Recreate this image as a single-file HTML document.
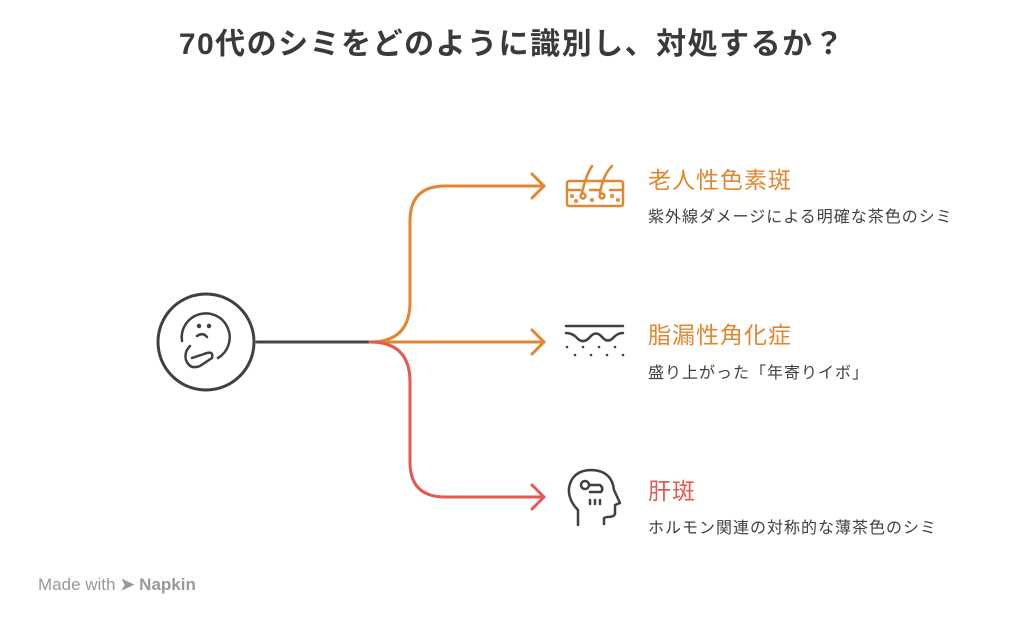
<!DOCTYPE html>
<html><head><meta charset="utf-8"><style>
body{margin:0;width:1024px;height:631px;background:#fff;position:relative;font-family:"Liberation Sans","Noto Sans CJK JP",sans-serif;overflow:hidden}
.t{position:absolute;white-space:nowrap}
.h{font-size:23px;letter-spacing:1px}
.d{font-size:16px;letter-spacing:1px;color:#404040}
</style></head><body>
<div class="t" style="left:0;width:1024px;top:19px;text-align:center;font-size:30px;letter-spacing:1.5px;font-weight:bold;color:#3a3a3a">70代のシミをどのように識別し、対処するか？</div>
<svg width="1024" height="631" style="position:absolute;left:0;top:0" fill="none" stroke-linecap="round" stroke-linejoin="round">
<circle cx="206" cy="342" r="48" stroke="#404040" stroke-width="3"/>
<g stroke="#404040" stroke-width="2.5">
<path d="M182 341 A24 24 0 1 1 218 358"/>
<path d="M190 346 Q184 352 186 360 Q190 370 200 366 L212 358 Q214 350 204 354 L192 358"/>
<circle cx="199" cy="326" r="1" fill="#404040"/><circle cx="209" cy="326" r="1" fill="#404040"/>
<path d="M197 336 Q203 332 207 337"/>
</g>
<path d="M257 342 H370" stroke="#454545" stroke-width="3"/>
<path d="M370 342 Q410 342 410 302 V221 Q410 186 445 186 H544" stroke="#E0872F" stroke-width="3"/>
<path d="M370 342 H544" stroke="#E0872F" stroke-width="3"/>
<path d="M370 342 Q410 342 410 382 V462 Q410 497 445 497 H544" stroke="#E45A52" stroke-width="3"/>
<path d="M532 174 L544 186 L532 198 M532 330 L544 342 L532 354" stroke="#E0872F" stroke-width="3"/>
<path d="M532 485 L544 497 L532 509" stroke="#E45A52" stroke-width="3"/>
<g stroke="#E0872F" stroke-width="2.5">
<rect x="567" y="181" width="56" height="25" rx="2"/>
<path d="M567 190 H580 M590 190 H600 M610 190 H623"/>
<path d="M582 193 Q586 175 592 166 M600 193 Q603 175 612 166"/>
<circle cx="583" cy="196" r="2.5"/><circle cx="602" cy="196" r="2.5"/>
<circle cx="572" cy="196" r="0.8"/><circle cx="576" cy="201" r="0.8"/><circle cx="592" cy="200" r="0.8"/><circle cx="612" cy="196" r="0.8"/><circle cx="618" cy="200" r="0.8"/>
</g>
<g stroke="#404040" stroke-width="2.5">
<path d="M566 326 H623"/>
<path d="M566 333 Q573 333 578 339 Q584 344 590 337 Q596 330 602 337 Q608 344 614 337 Q618 333 623 333"/>
</g>
<g fill="#404040"><circle cx="567" cy="347" r="1.3"/><circle cx="583" cy="347" r="1.3"/><circle cx="599" cy="347" r="1.3"/><circle cx="615" cy="347" r="1.3"/><circle cx="575" cy="355" r="1.3"/><circle cx="591" cy="355" r="1.3"/><circle cx="607" cy="355" r="1.3"/><circle cx="623" cy="355" r="1.3"/></g>
<g stroke="#404040" stroke-width="2.5">
<path d="M578 525 V510 Q568 500 569 488 Q572 470 592 470 Q612 471 614 490 L620 503 L615 505 V514 Q614 517 607 517 L604 518 V524"/>
<circle cx="585" cy="485" r="4"/>
<path d="M590 485 H600 Q604 488 601 492 H590"/>
<path d="M590 500 V504 M595 500 V504 M600 500 V504"/>
</g>
</svg>
<div class="t h" style="left:648px;top:161px;color:#E0872F">老人性色素斑</div>
<div class="t d" style="left:648px;top:203px">紫外線ダメージによる明確な茶色のシミ</div>
<div class="t h" style="left:648px;top:316px;color:#E0872F">脂漏性角化症</div>
<div class="t d" style="left:648px;top:359px">盛り上がった「年寄りイボ」</div>
<div class="t h" style="left:648px;top:472px;color:#E45A52">肝斑</div>
<div class="t d" style="left:648px;top:514px">ホルモン関連の対称的な薄茶色のシミ</div>
<div class="t" style="left:38px;top:575px;font-size:17px;color:#999">Made with <span style="font-weight:bold">➤ Napkin</span></div>
</body></html>
